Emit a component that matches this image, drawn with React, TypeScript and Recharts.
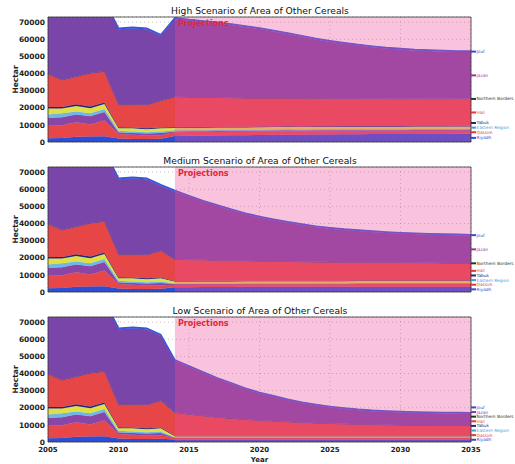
import React from "react";
import { AreaChart, Area, XAxis, YAxis, CartesianGrid, ReferenceArea, ReferenceDot } from "recharts";

const FONT = "DejaVu Sans, sans-serif";

const years = [
  2005, 2006, 2007, 2008, 2009, 2010, 2011, 2012, 2013, 2014, 2015, 2016, 2017, 2018, 2019, 2020,
  2021, 2022, 2023, 2024, 2025, 2026, 2027, 2028, 2029, 2030, 2031, 2032, 2033, 2034, 2035,
];
const xTicks = [2005, 2010, 2015, 2020, 2025, 2030, 2035];
const yTicks = [0, 10000, 20000, 30000, 40000, 50000, 60000, 70000];
const firstProjection = 2014;
const yMax = 73000;

// stacking order, bottom to top
const regions = ["Riyadh", "Qassim", "Asir", "Eastern Region", "Madinah", "Tabuk", "Hail", "Northern Borders", "Jazan", "Jouf"];
const fills = ["#2a4fd6", "#e8474a", "#8a46a6", "#6fb7e6", "#e0df44", "#1c2a80", "#e64646", "#4a2f70", "#7a45a8", "#3355dd"];
const tagColors = ["#2a4fd6", "#e03a3a", "#8a46a6", "#3aa0d8", "#d08a00", "#1c2a80", "#e03a3a", "#1f3a2a", "#8a3aa0", "#2a4fd6"];
const tagged = ["Riyadh", "Qassim", "Eastern Region", "Tabuk", "Hail", "Northern Borders", "Jazan", "Jouf"];

// recorded area 2005-2013 (hectar)
const histRiyadh = [2200, 2400, 3000, 3200, 3400, 2000, 1800, 1800, 1900];
const histQassim = [7300, 7400, 8500, 7000, 9100, 2600, 2500, 2000, 2100];
const histAsir = [4500, 4700, 4500, 4800, 5000, 900, 900, 1200, 1200];
const histEastern = [2000, 2300, 1800, 1800, 1700, 1000, 1000, 700, 1000];
const histMadinah = [3500, 2700, 3200, 2900, 3000, 1500, 1800, 1800, 1800];
const histTabuk = [1000, 1000, 1000, 1000, 800, 600, 500, 500, 500];
const histHail = [19000, 15500, 16000, 19300, 18000, 13200, 13300, 13500, 15500];
const histNorthern = [300, 300, 300, 300, 300, 300, 300, 300, 300];
const histJazan = [40000, 40000, 41000, 42000, 41000, 43700, 44200, 44000, 37700];
const histJouf = [700, 700, 700, 700, 700, 700, 700, 700, 700];

// high scenario 2014-2035
const highRiyadh = [3500, 3600, 3700, 3800, 3900, 4000, 4100, 4200, 4300, 4300, 4400, 4400, 4500, 4500, 4600, 4600, 4600, 4700, 4700, 4700, 4800, 4800];
const highQassim = [2200, 2200, 2100, 2100, 2100, 2000, 2000, 2000, 2000, 1900, 1900, 1900, 1900, 1900, 1800, 1800, 1800, 1800, 1800, 1800, 1800, 1800];
const highAsir = [500, 500, 500, 500, 500, 500, 500, 500, 500, 500, 500, 500, 500, 500, 500, 500, 500, 500, 500, 500, 500, 500];
const highEastern = [600, 600, 600, 600, 600, 600, 600, 600, 600, 600, 600, 600, 600, 600, 600, 600, 600, 600, 600, 600, 600, 600];
const highMadinah = [1400, 1400, 1400, 1400, 1400, 1400, 1400, 1400, 1400, 1400, 1400, 1400, 1400, 1400, 1400, 1400, 1400, 1400, 1400, 1400, 1400, 1400];
const highTabuk = [400, 400, 400, 400, 400, 400, 400, 400, 400, 400, 400, 400, 400, 400, 400, 400, 400, 400, 400, 400, 400, 400];
const highHail = [17500, 17300, 17100, 16900, 16700, 16500, 16400, 16300, 16200, 16100, 16000, 15900, 15800, 15800, 15700, 15700, 15600, 15600, 15500, 15500, 15500, 15500];
const highNorthern = [300, 300, 300, 300, 300, 300, 300, 300, 300, 300, 300, 300, 300, 300, 300, 300, 300, 300, 300, 300, 300, 300];
const highJazan = [45500, 44600, 44000, 43300, 42400, 41500, 40300, 38900, 37400, 36000, 34400, 33200, 32000, 30900, 30100, 29300, 28800, 28200, 28000, 27700, 27300, 27200];
const highJouf = [600, 600, 600, 600, 600, 600, 600, 600, 600, 600, 600, 600, 600, 600, 600, 600, 600, 600, 600, 600, 600, 600];

// medium scenario 2014-2035
const medRiyadh = [2800, 2800, 2900, 2900, 2900, 3000, 3000, 3000, 3000, 3000, 3000, 3000, 3000, 3100, 3100, 3100, 3100, 3100, 3100, 3100, 3100, 3100];
const medQassim = [1500, 1500, 1500, 1500, 1500, 1500, 1500, 1500, 1500, 1500, 1500, 1500, 1500, 1500, 1500, 1500, 1500, 1500, 1500, 1500, 1500, 1500];
const medAsir = [300, 300, 300, 300, 300, 300, 300, 300, 300, 300, 300, 300, 300, 300, 300, 300, 300, 300, 300, 300, 300, 300];
const medEastern = [300, 300, 300, 300, 300, 300, 300, 300, 300, 300, 300, 300, 300, 300, 300, 300, 300, 300, 300, 300, 300, 300];
const medMadinah = [1200, 1200, 1200, 1200, 1200, 1200, 1200, 1200, 1200, 1200, 1200, 1200, 1200, 1200, 1200, 1200, 1200, 1200, 1200, 1200, 1200, 1200];
const medTabuk = [300, 300, 300, 300, 300, 300, 300, 300, 300, 300, 300, 300, 300, 300, 300, 300, 300, 300, 300, 300, 300, 300];
const medHail = [12400, 12200, 12000, 11800, 11600, 11400, 11200, 11000, 10900, 10800, 10700, 10600, 10500, 10400, 10300, 10200, 10200, 10100, 10100, 10000, 10000, 9900];
const medNorthern = [300, 300, 300, 300, 300, 300, 300, 300, 300, 300, 300, 300, 300, 300, 300, 300, 300, 300, 300, 300, 300, 300];
const medJazan = [39600, 36800, 34000, 31700, 29400, 27100, 25500, 24000, 22600, 21400, 20300, 19500, 18800, 18200, 17700, 17300, 16900, 16700, 16400, 16300, 16100, 16000];
const medJouf = [600, 600, 600, 600, 600, 600, 600, 600, 600, 600, 600, 600, 600, 600, 600, 600, 600, 600, 600, 600, 600, 600];

// low scenario 2014-2035
const lowRiyadh = [1500, 1500, 1500, 1500, 1500, 1500, 1500, 1500, 1500, 1500, 1500, 1500, 1500, 1500, 1500, 1500, 1500, 1500, 1500, 1500, 1500, 1500];
const lowQassim = [800, 800, 800, 800, 800, 800, 800, 800, 800, 800, 800, 800, 800, 800, 800, 800, 800, 800, 800, 800, 800, 800];
const lowAsir = [200, 200, 200, 200, 200, 200, 200, 200, 200, 200, 200, 200, 200, 200, 200, 200, 200, 200, 200, 200, 200, 200];
const lowEastern = [200, 200, 200, 200, 200, 200, 200, 200, 200, 200, 200, 200, 200, 200, 200, 200, 200, 200, 200, 200, 200, 200];
const lowMadinah = [700, 700, 700, 700, 700, 700, 700, 700, 700, 700, 700, 700, 700, 700, 700, 700, 700, 700, 700, 700, 700, 700];
const lowTabuk = [200, 200, 200, 200, 200, 200, 200, 200, 200, 200, 200, 200, 200, 200, 200, 200, 200, 200, 200, 200, 200, 200];
const lowHail = [13300, 12300, 11400, 10600, 9900, 9300, 8800, 8300, 7900, 7500, 7200, 6900, 6700, 6500, 6300, 6200, 6100, 6000, 6000, 5900, 5900, 5900];
const lowNorthern = [300, 300, 300, 300, 300, 300, 300, 300, 300, 300, 300, 300, 300, 300, 300, 300, 300, 300, 300, 300, 300, 300];
const lowJazan = [30300, 27800, 25200, 22500, 20200, 17800, 15800, 14300, 12700, 11400, 10400, 9500, 8800, 8200, 7800, 7500, 7300, 7200, 7000, 7000, 6900, 6800];
const lowJouf = [500, 500, 500, 500, 500, 500, 500, 500, 500, 500, 500, 500, 500, 500, 500, 500, 500, 500, 500, 500, 500, 500];

const history = [histRiyadh, histQassim, histAsir, histEastern, histMadinah, histTabuk, histHail, histNorthern, histJazan, histJouf];
const high = [highRiyadh, highQassim, highAsir, highEastern, highMadinah, highTabuk, highHail, highNorthern, highJazan, highJouf];
const medium = [medRiyadh, medQassim, medAsir, medEastern, medMadinah, medTabuk, medHail, medNorthern, medJazan, medJouf];
const low = [lowRiyadh, lowQassim, lowAsir, lowEastern, lowMadinah, lowTabuk, lowHail, lowNorthern, lowJazan, lowJouf];

type Row = { [key: string]: number };

function buildRows(projection: number[][]): Row[] {
  const nHist = histRiyadh.length;
  return years.map((year, i) => {
    const row: Row = { year };
    regions.forEach((r, k) => {
      row[r] = i < nHist ? history[k][i] : projection[k][i - nHist];
    });
    return row;
  });
}

// end-of-series tags, nudged apart so they don't sit on top of each other
function endTags(rows: Row[]) {
  const last = rows[rows.length - 1];
  const gap = 2700; // ~4.6px at 125px per 73000
  let acc = 0;
  let prev = -Infinity;
  const out: { name: string; color: string; y: number }[] = [];
  regions.forEach((r, k) => {
    const mid = acc + last[r] / 2;
    acc += last[r];
    if (!tagged.includes(r)) return;
    const y = Math.max(mid, prev + gap, 1300);
    prev = y;
    out.push({ name: r, color: tagColors[k], y });
  });
  return out;
}

const Tag = ({ cx, cy, name, color }: { cx: number; cy: number; name: string; color: string }) => (
  <g>
    <line x1={cx} x2={cx + 5} y1={cy} y2={cy} stroke={color} strokeWidth={2} />
    <text x={cx + 5.5} y={cy} dy="0.35em" fontSize={4.3} fill={color} fontFamily={FONT}>
      {name}
    </text>
  </g>
);

const HectarLabel = ({ viewBox }: any) => {
  const cy = viewBox.y + viewBox.height / 2;
  return (
    <text x={15} y={cy} transform={`rotate(-90 15 ${cy})`} textAnchor="middle" dominantBaseline="central"
      fontSize={7.5} fontWeight="bold" fill="#222" fontFamily={FONT}>
      Hectar
    </text>
  );
};

function Panel({ title, rows, top, bottomAxis }: { title: string; rows: Row[]; top: number; bottomAxis?: boolean }) {
  const height = bottomAxis ? 164 : 150;
  const tags = endTags(rows);

  return (
    <div style={{ position: "absolute", left: 0, top, width: 515, height }}>
      <AreaChart width={515} height={height} data={rows}
        margin={{ top: 17, right: 44, bottom: bottomAxis ? 0 : 8, left: 0 }}>
        <CartesianGrid stroke="#888" strokeDasharray="1 3" strokeOpacity={0.5} />
        <XAxis dataKey="year" type="number" domain={[2005, 2035]} ticks={xTicks} allowDataOverflow
          hide={!bottomAxis} height={22} tickSize={0} tickMargin={5} axisLine={false}
          tick={{ fontSize: 7, fontWeight: "bold", fill: "#222", fontFamily: FONT }}
          label={{ value: "Year", position: "insideBottom", offset: 2, fontSize: 7, fontWeight: "bold", fill: "#222", fontFamily: FONT }} />
        <YAxis domain={[0, yMax]} ticks={yTicks} allowDataOverflow width={48} tickSize={0} tickMargin={3}
          axisLine={false} interval={0}
          tick={{ fontSize: 7.5, fontWeight: "bold", fill: "#222", fontFamily: FONT }}
          label={<HectarLabel />} />
        {regions.map((r, k) => (
          <Area key={r} type="linear" dataKey={r} stackId="a" fill={fills[k]} fillOpacity={1}
            stroke={fills[k]} strokeWidth={r === "Jouf" ? 1.4 : 0.5} isAnimationActive={false} dot={false} activeDot={false} />
        ))}
        <ReferenceArea x1={firstProjection} x2={2035} y1={0} y2={yMax} fill="#f0509c" fillOpacity={0.34}
          stroke="none" ifOverflow="hidden" zIndex={450}
          label={{ value: "Projections", position: "insideTopLeft", offset: 3, fontSize: 8, fontWeight: "bold", fill: "#e02838", fontFamily: FONT }} />
        <ReferenceArea x1={2005} x2={2035} y1={0} y2={yMax} fill="none" stroke="#333" strokeWidth={0.8} zIndex={460} />
        {tags.map((t) => (
          <ReferenceDot key={t.name} x={2035} y={t.y} r={0} ifOverflow="visible" zIndex={470}
            shape={(p: any) => <Tag cx={p.cx} cy={p.cy} name={t.name} color={t.color} />} />
        ))}
      </AreaChart>
      <div style={{ position: "absolute", left: 48, width: 424, top: 6, textAlign: "center",
        fontFamily: FONT, fontSize: 9.2, lineHeight: "10px", color: "#111" }}>
        {title}
      </div>
    </div>
  );
}

export default function App() {
  return (
    <div style={{ position: "absolute", left: 0, top: 0, width: 515, height: 464, background: "#fff" }}>
      <Panel title="High Scenario of Area of Other Cereals" rows={buildRows(high)} top={0} />
      <Panel title="Medium Scenario of Area of Other Cereals" rows={buildRows(medium)} top={150} />
      <Panel title="Low Scenario of Area of Other Cereals" rows={buildRows(low)} top={300} bottomAxis />
    </div>
  );
}
